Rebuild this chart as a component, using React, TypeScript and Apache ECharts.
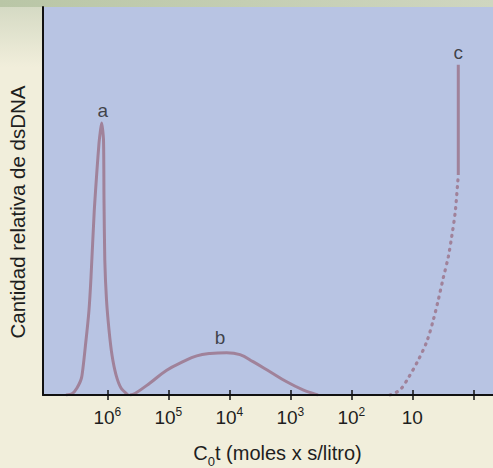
import React, { useEffect, useRef } from 'react';
import * as echarts from 'echarts';

const FONT = '"Liberation Sans", Arial, Helvetica, sans-serif';
const LINE_COLOR = '#a0829a';
const TEXT_COLOR = '#1e1e1e';

// x values are log10(C0t); the axis runs from 10^6 (left) to 1 (right)
const tickPositions = [0, 1, 2, 3, 4, 5, 6];
const labeledExponents = [1, 2, 3, 4, 5, 6];

const curveA: [number, number][] = [
  [6.677, 0], [6.579, 0.3], [6.497, 1.8], [6.42, 4.6], [6.354, 13.4], [6.3, 21.9],
  [6.267, 30.4], [6.213, 47.7], [6.169, 58.0], [6.136, 64.9], [6.111, 68.3], [6.092, 70.1],
  [6.062, 65.7], [6.054, 50.3], [6.041, 34.8], [6.013, 24.5], [5.972, 16.8], [5.923, 10.3],
  [5.857, 5.2], [5.775, 1.8], [5.661, 0],
];

const curveB: [number, number][] = [
  [5.628, 0], [5.546, 0.4], [5.3, 3.1], [5.026, 6.4], [4.759, 8.6], [4.534, 10.1],
  [4.316, 10.7], [4.043, 10.9], [3.825, 10.4], [3.611, 8.6], [3.333, 6.0], [3.059, 3.4],
  [2.792, 1.3], [2.628, 0.4], [2.546, 0],
];

const curveCDotted: [number, number][] = [
  [1.366, 0], [1.202, 1.3], [1.066, 4.4], [0.902, 9.0], [0.764, 13.7], [0.656, 19.3],
  [0.574, 24.5], [0.492, 30.2], [0.41, 35.6], [0.354, 40.8], [0.298, 46.9], [0.256, 54.6],
  [0.246, 56.7],
];

const curveCSolid: [number, number][] = [
  [0.246, 56.7], [0.246, 85.1],
];

const peakNames = ['a', 'b', 'c'];
const peakLabelX = [6.074, 4.152, 0.246];
const peakLabelY = [73.2, 14.7, 88.4];

export default function App() {
  const ref = useRef<HTMLDivElement>(null);
  useEffect(() => {
    const chart = echarts.init(ref.current!, null, { renderer: 'svg' });
    const xMin = -0.323;
    const xMax = 7.054;
    const lineSeries = (name: string, data: [number, number][], extra: any = {}) => ({
      name,
      type: 'line',
      data,
      showSymbol: false,
      silent: true,
      smooth: extra.smooth ?? 0.25,
      lineStyle: { color: LINE_COLOR, width: 3, ...(extra.lineStyle || {}) },
      z: 2,
    });
    chart.setOption({
      animation: false,
      backgroundColor: '#f1eedb',
      grid: {
        left: 43,
        right: 0,
        top: 7,
        bottom: 73,
        show: true,
        backgroundColor: '#b8c4e3',
        borderWidth: 0,
      },
      xAxis: [
        {
          type: 'value',
          inverse: true,
          min: xMin,
          max: xMax,
          position: 'bottom',
          z: 5,
          axisLine: { show: true, onZero: false, lineStyle: { color: '#111', width: 2 } },
          axisTick: {
            show: true,
            inside: false,
            length: 5,
            customValues: tickPositions,
            lineStyle: { color: '#111', width: 1.5 },
          },
          axisLabel: {
            show: true,
            customValues: labeledExponents,
            margin: 11,
            color: TEXT_COLOR,
            fontFamily: FONT,
            fontSize: 19,
            formatter: (v: number) => (v === 1 ? '{b|10}' : `{b|10}{s|${v}}`),
            rich: {
              b: { fontFamily: FONT, fontSize: 19, color: TEXT_COLOR, verticalAlign: 'bottom', padding: [2, 0, 0, 0] },
              s: { fontFamily: FONT, fontSize: 12, color: TEXT_COLOR, verticalAlign: 'top' },
            },
          },
          splitLine: { show: false },
        },
        {
          type: 'value',
          inverse: true,
          min: xMin,
          max: xMax,
          position: 'bottom',
          z: 5,
          axisLine: { show: false },
          axisTick: {
            show: true,
            inside: true,
            length: 5,
            customValues: tickPositions,
            lineStyle: { color: '#111', width: 1.5 },
          },
          axisLabel: { show: false },
          splitLine: { show: false },
        },
      ],
      yAxis: {
        type: 'value',
        min: 0,
        max: 100,
        z: 5,
        axisLine: { show: true, onZero: false, lineStyle: { color: '#111', width: 2 } },
        axisTick: { show: false },
        axisLabel: { show: false },
        splitLine: { show: false },
      },
      graphic: [
        {
          type: 'rect',
          z: -1,
          shape: { x: 0, y: 0, width: 493, height: 7 },
          style: {
            fill: new echarts.graphic.LinearGradient(0, 0, 1, 0, [
              { offset: 0, color: '#b9c6a6' },
              { offset: 1, color: '#cfd6c0' },
            ]),
          },
        },
        {
          type: 'rect',
          z: -1,
          shape: { x: 0, y: 7, width: 42, height: 60 },
          style: {
            fill: new echarts.graphic.LinearGradient(0, 0, 0, 1, [
              { offset: 0, color: '#d5dac4' },
              { offset: 1, color: '#f1eedb' },
            ]),
          },
        },
        {
          type: 'text',
          x: 17,
          y: 212,
          rotation: Math.PI / 2,
          style: {
            text: 'Cantidad relativa de dsDNA',
            fontFamily: FONT,
            fontSize: 20.5,
            fill: TEXT_COLOR,
            align: 'center',
            verticalAlign: 'middle',
          },
        },
        {
          type: 'text',
          x: 277.5,
          y: 455,
          style: {
            text: '{n|C}{sub|0}{n|t (moles x s/litro)}',
            fontFamily: FONT,
            fontSize: 20,
            fill: TEXT_COLOR,
            align: 'center',
            verticalAlign: 'middle',
            rich: {
              n: { fontFamily: FONT, fontSize: 20, fill: TEXT_COLOR, verticalAlign: 'top', padding: [0, 0, 5, 0] },
              sub: { fontFamily: FONT, fontSize: 13, fill: TEXT_COLOR, verticalAlign: 'bottom' },
            },
          },
        },
      ],
      series: [
        lineSeries('a', curveA, { smooth: 0.2 }),
        lineSeries('b', curveB, { smooth: 0.4 }),
        lineSeries('c (punteada)', curveCDotted, {
          smooth: 0.3,
          lineStyle: { type: [1, 6], cap: 'round', width: 3.2 },
        }),
        lineSeries('c', curveCSolid, { smooth: false }),
        {
          name: 'etiquetas',
          type: 'scatter',
          silent: true,
          symbolSize: 1,
          itemStyle: { color: 'rgba(0,0,0,0)' },
          data: peakNames.map((n, i) => [peakLabelX[i], peakLabelY[i], n]),
          label: {
            show: true,
            position: 'inside',
            formatter: (p: any) => p.value[2],
            fontFamily: FONT,
            fontSize: 19,
            color: TEXT_COLOR,
          },
          z: 6,
        },
      ],
    });
    return () => chart.dispose();
  }, []);
  return (
    <div
      ref={ref}
      style={{ position: 'absolute', left: 0, top: 0, width: 493, height: 468 }}
    />
  );
}
